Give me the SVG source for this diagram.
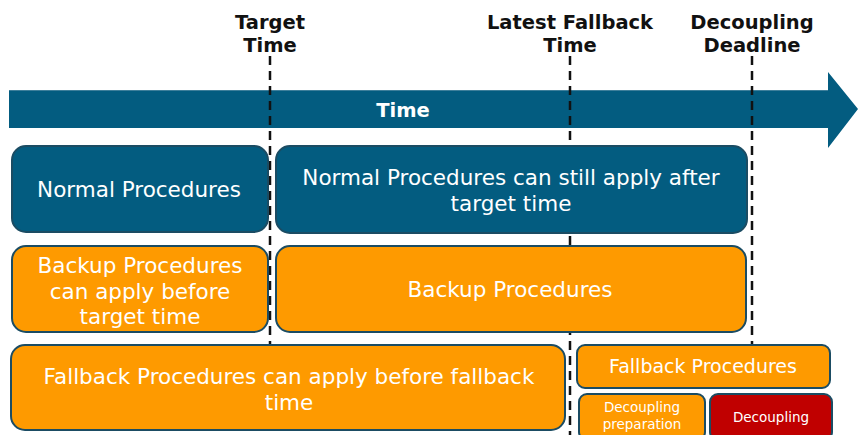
<svg xmlns="http://www.w3.org/2000/svg" width="858" height="435" viewBox="0 0 858 435">
<style>
.hdr{font-family:"DejaVu Sans",Verdana,sans-serif;font-weight:bold;font-size:19.5px;fill:#111;text-anchor:middle}
.bt{font-family:"DejaVu Sans",Verdana,sans-serif;font-size:21.5px;fill:#fff;text-anchor:middle}
.st{font-family:"DejaVu Sans",Verdana,sans-serif;font-size:13.5px;fill:#fff;text-anchor:middle}
.blue{fill:#035C80;stroke:#1B4C63;stroke-width:2}
.orange{fill:#FE9A00;stroke:#1B4C63;stroke-width:2}
.red{fill:#C00000;stroke:#1B4C63;stroke-width:2}
.dash{stroke:#111;stroke-width:2.5;stroke-dasharray:9,6;fill:none}
</style>
<g id="time-arrow">
<polygon points="9,90 828,90 828,72 858,109 828,148 828,128 9,128" fill="#035C80"/>
<line x1="9" y1="90.5" x2="828" y2="90.5" stroke="#3E7F9B" stroke-width="1"/>
<text x="403" y="117" class="hdr" style="fill:#fff">Time</text>
</g>
<g id="connectors">
<line class="dash" x1="270" y1="56" x2="270" y2="346"/>
<line class="dash" x1="570" y1="56" x2="570" y2="435"/>
<line class="dash" x1="752" y1="56" x2="752" y2="344"/>
</g>
<g id="label-target">
<text class="hdr" x="270" y="29">Target</text>
<text class="hdr" x="270" y="52">Time</text>
</g>
<g id="label-latest">
<text class="hdr" x="570" y="29">Latest Fallback</text>
<text class="hdr" x="570" y="52">Time</text>
</g>
<g id="label-deadline">
<text class="hdr" x="752" y="29">Decoupling</text>
<text class="hdr" x="752" y="52">Deadline</text>
</g>
<g id="normal">
<rect class="blue" x="12" y="146" width="256" height="86" rx="14"/>
<text class="bt" x="139" y="197">Normal Procedures</text>
</g>
<g id="normal-after">
<rect class="blue" x="276" y="146" width="471" height="87" rx="14"/>
<text class="bt" x="511" y="185">Normal Procedures can still apply after</text>
<text class="bt" x="511" y="211">target time</text>
</g>
<g id="backup-before">
<rect class="orange" x="12" y="246" width="256" height="86" rx="14"/>
<text class="bt" x="140" y="273">Backup Procedures</text>
<text class="bt" x="140" y="299">can apply before</text>
<text class="bt" x="140" y="324">target time</text>
</g>
<g id="backup">
<rect class="orange" x="276" y="246" width="470" height="86" rx="14"/>
<text class="bt" x="510" y="297">Backup Procedures</text>
</g>
<g id="fallback-before">
<rect class="orange" x="11" y="345" width="554" height="85" rx="14"/>
<text class="bt" x="289" y="384">Fallback Procedures can apply before fallback</text>
<text class="bt" x="289" y="410">time</text>
</g>
<g id="fallback">
<rect class="orange" x="577" y="345" width="253" height="43" rx="8"/>
<text class="bt" x="703" y="373" style="font-size:19px">Fallback Procedures</text>
</g>
<g id="decoupling-prep">
<rect class="orange" x="579" y="394" width="126" height="46" rx="8"/>
<text class="st" x="642" y="412">Decoupling</text>
<text class="st" x="642" y="429">preparation</text>
</g>
<g id="decoupling">
<rect class="red" x="710" y="394" width="122" height="46" rx="8"/>
<text class="st" x="771" y="422">Decoupling</text>
</g>
</svg>
